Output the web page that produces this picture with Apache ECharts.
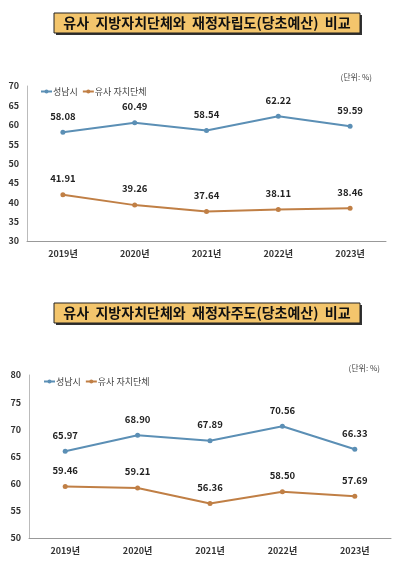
<!DOCTYPE html>
<html><head><meta charset="utf-8">
<script src="https://cdn.jsdelivr.net/npm/echarts@6/dist/echarts.min.js"></script>
<style>html,body{margin:0;padding:0;background:#fff}#c{width:400px;height:570px}</style>
</head><body><div id="c"></div>
<script>
const categories = ['2019년','2020년','2021년','2022년','2023년'];
const seriesNames = ['성남시','유사 자치단체'];
const title1 = '유사  지방자치단체와  재정자립도(당초예산)  비교';
const title2 = '유사  지방자치단체와  재정자주도(당초예산)  비교';
const unitText = '(단위: %)';
const seongnam1 = [58.08, 60.49, 58.54, 62.22, 59.59];
const similar1 = [41.91, 39.26, 37.64, 38.11, 38.46];
const seongnam2 = [65.97, 68.90, 67.89, 70.56, 66.33];
const similar2 = [59.46, 59.21, 56.36, 58.50, 57.69];

const FONT = '"Noto Sans CJK KR", "Noto Sans", sans-serif';
const BLUE = '#5b8fb5';
const ORANGE = '#c07f45';

const chart = echarts.init(document.getElementById('c'));
function xAxis(gi){return {type:'category',gridIndex:gi,data:categories,boundaryGap:true,
  axisLine:{lineStyle:{color:'#999',width:1}},axisTick:{show:false},
  axisLabel:{color:'#333',fontSize:9,fontFamily:FONT,fontWeight:'bold',margin:8}};}
function yAxis(gi,min,max){return {type:'value',gridIndex:gi,min:min,max:max,interval:5,
  axisLine:{show:true,lineStyle:{color:'#bbb'}},axisTick:{show:false},splitLine:{show:false},
  axisLabel:{color:'#333',fontSize:9,fontFamily:FONT,fontWeight:'bold',margin:8}};}
function line(name,data,gi,color){return {name:name,type:'line',xAxisIndex:gi,yAxisIndex:gi,data:data,
  symbol:'circle',symbolSize:5,lineStyle:{color:color,width:2},itemStyle:{color:color},
  label:{show:true,position:'top',distance:9,color:'#222',fontSize:9.5,fontWeight:'bold',fontFamily:FONT,
    formatter:p=>p.value.toFixed(2)}};}
function titleBox(y,text){return [
  {type:'rect',shape:{x:56,y:y+2,width:306,height:20},style:{fill:'#333'}},
  {type:'rect',shape:{x:54,y:y,width:306,height:20},style:{fill:'#f3c56c',stroke:'#222',lineWidth:1}},
  {type:'text',x:207,y:y+10,style:{text:text,fill:'#111',font:'bold 14px '+FONT,textAlign:'center',textVerticalAlign:'middle'}}
];}
function legend(left,top){return {left:left,top:top,itemWidth:11,itemHeight:5,itemGap:4,data:seriesNames,
  textStyle:{color:'#444',fontSize:9,fontFamily:FONT,padding:[0,0,0,-4]}};}
chart.setOption({
  animation:false,
  grid:[{left:27,right:14,top:86,height:155},{left:29,right:9,top:375,height:163}],
  xAxis:[xAxis(0),xAxis(1)],
  yAxis:[yAxis(0,30,70),yAxis(1,50,80)],
  legend:[legend(35,82),legend(38,372)],
  series:[line(seriesNames[0],seongnam1,0,BLUE),line(seriesNames[1],similar1,0,ORANGE),
          line(seriesNames[0],seongnam2,1,BLUE),line(seriesNames[1],similar2,1,ORANGE)],
  graphic:[].concat(titleBox(13,title1),titleBox(303,title2),[
    {type:'text',x:372,y:77,style:{text:unitText,fill:'#444',font:'8px '+FONT,textAlign:'right',textVerticalAlign:'middle'}},
    {type:'text',x:380,y:368,style:{text:unitText,fill:'#444',font:'8px '+FONT,textAlign:'right',textVerticalAlign:'middle'}}
  ])
});
</script></body></html>
